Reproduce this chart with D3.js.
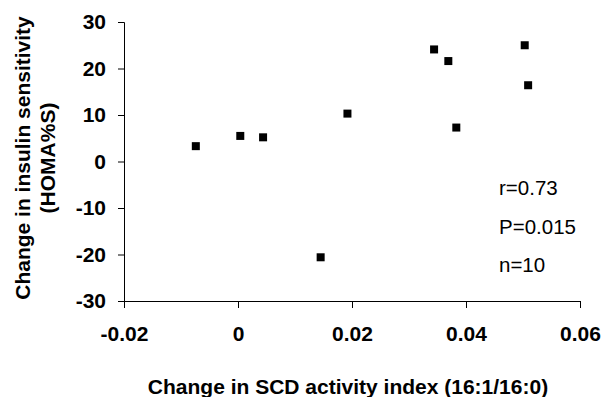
<!DOCTYPE html>
<html>
<head>
<meta charset="utf-8">
<script src="https://cdn.jsdelivr.net/npm/d3@7"></script>
<style>
  body { margin: 0; background: #fff; }
  svg { display: block; font-family: "Liberation Sans", Arial, sans-serif; }
  .axis text { font-weight: bold; font-size: 21px; fill: #000; }
  .axis path, .axis line { stroke: #000; stroke-width: 1; }
</style>
</head>
<body>
<svg id="chart"></svg>
<script>
// data
const scdChange = [-0.0074, 0.0004, 0.0044, 0.0145, 0.0192, 0.0344, 0.0369, 0.0383, 0.0503, 0.0509];
const homaChange = [3.3, 5.5, 5.2, -20.6, 10.3, 24.1, 21.6, 7.3, 25.0, 16.4];
const xTicks = [-0.02, 0, 0.02, 0.04, 0.06];
const yTicks = [-30, -20, -10, 0, 10, 20, 30];
const statLines = ["r=0.73", "P=0.015", "n=10"];

const W = 602, H = 397;
const plot = {left: 124, right: 580, top: 22, bottom: 301};

const svg = d3.select("#chart").attr("width", W).attr("height", H);

const x = d3.scaleLinear().domain([-0.02, 0.06]).range([plot.left, plot.right]);
const y = d3.scaleLinear().domain([-30, 30]).range([plot.bottom, plot.top]);

// axes
svg.append("g")
    .attr("class", "axis")
    .attr("transform", `translate(0, ${plot.bottom})`)
    .call(d3.axisBottom(x).tickValues(xTicks).tickSize(7).tickPadding(18)
      .tickFormat(d => d === 0 ? "0" : d3.format(".2f")(d).replace("−", "-")));

svg.append("g")
    .attr("class", "axis")
    .attr("transform", `translate(${plot.left}, 0)`)
    .call(d3.axisLeft(y).tickValues(yTicks).tickSize(6).tickPadding(12)
      .tickFormat(d => String(d)));

// points
const pts = scdChange.map((v, i) => [v, homaChange[i]]);
const s = 8;
svg.append("g")
  .selectAll("rect")
  .data(pts)
  .join("rect")
    .attr("x", d => x(d[0]) - s / 2)
    .attr("y", d => y(d[1]) - s / 2)
    .attr("width", s)
    .attr("height", s)
    .attr("fill", "#000");

// stats text
svg.append("g")
  .selectAll("text")
  .data(statLines)
  .join("text")
    .attr("x", 499)
    .attr("y", (d, i) => 195 + i * 38.5)
    .style("font-size", "20.5px")
    .text(d => d);

// axis titles
svg.append("text")
    .attr("x", 348)
    .attr("y", 394)
    .attr("text-anchor", "middle")
    .style("font-weight", "bold")
    .style("font-size", "21px")
    .text("Change in SCD activity index (16:1/16:0)");

const yTitle = svg.append("text")
    .attr("transform", "translate(30, 158) rotate(-90)")
    .attr("text-anchor", "middle")
    .style("font-weight", "bold")
    .style("font-size", "21px");
yTitle.append("tspan").attr("x", 0).attr("y", 0).text("Change in insulin sensitivity");
yTitle.append("tspan").attr("x", 0).attr("y", 24.5).text("(HOMA%S)");
</script>
</body>
</html>
